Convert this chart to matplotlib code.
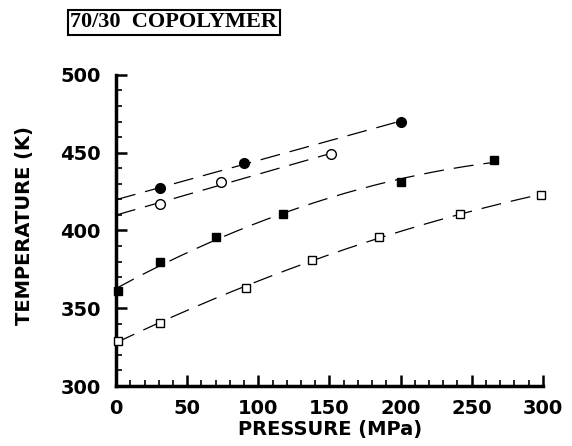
import numpy as np
import matplotlib.pyplot as plt
from matplotlib.ticker import MultipleLocator

# Daten (Druck in MPa, Temperatur in K)
p_filled_circ = [31, 90, 200]
t_filled_circ = [427, 443.5, 470]
p_open_circ = [31, 74, 151]
t_open_circ = [417, 431, 449]
p_filled_sq = [1, 31, 70, 117, 200, 266]
t_filled_sq = [361, 379.5, 395.5, 410.5, 431, 445]
p_open_sq = [1, 31, 91, 138, 185, 242, 299]
t_open_sq = [329, 340.5, 363, 381, 396, 410.5, 423]

plt.rcParams['font.family'] = ['DejaVu Sans']

fig = plt.figure(figsize=(5.72, 4.46), dpi=100)
ax = fig.add_axes([0.203, 0.1345, 0.746, 0.6975])

series = [
    (p_filled_circ, t_filled_circ, 'o', 'black', 7, 1),
    (p_open_circ, t_open_circ, 'o', 'white', 7, 1),
    (p_filled_sq, t_filled_sq, 's', 'black', 5.2, 2),
    (p_open_sq, t_open_sq, 's', 'white', 5.2, 2),
]

for p, t, m, fc, ms, deg in series:
    # Ausgleichskurve gestrichelt von 0 bis zum letzten Punkt
    coef = np.polyfit(p, t, deg)
    xs = np.linspace(0, max(p), 200)
    ax.plot(xs, np.polyval(coef, xs), color='black', lw=0.9,
            dashes=(16, 8), zorder=2)
    ax.plot(p, t, linestyle='none', marker=m, ms=ms, mfc=fc, mec='black',
            mew=1.0, zorder=3, clip_on=False)

ax.set_xlim(0, 300)
ax.set_ylim(300, 500)
ax.spines['top'].set_visible(False)
ax.spines['right'].set_visible(False)
ax.spines['left'].set_linewidth(2.5)
ax.spines['bottom'].set_linewidth(2.5)

ax.xaxis.set_major_locator(MultipleLocator(50))
ax.xaxis.set_minor_locator(MultipleLocator(10))
ax.yaxis.set_major_locator(MultipleLocator(50))
ax.yaxis.set_minor_locator(MultipleLocator(10))
ax.tick_params(which='major', direction='in', length=8, width=1.8,
               labelsize=14)
ax.tick_params(which='minor', direction='in', length=4.5, width=1.2)
ax.tick_params(axis='x', which='major', pad=9)
ax.tick_params(axis='y', which='major', pad=11)
for lab in ax.get_xticklabels() + ax.get_yticklabels():
    lab.set_fontweight('bold')

ax.set_xlabel('PRESSURE (MPa)', fontsize=14, fontweight='bold', va='top')
ax.xaxis.set_label_coords(0.501, -0.11)
ax.set_ylabel('TEMPERATURE (K)', fontsize=14, fontweight='bold', va='center')
ax.yaxis.set_label_coords(-0.215, 0.515)

fig.text(0.123, 0.95, '70/30  COPOLYMER', fontsize=16, fontweight='bold',
         family='Liberation Serif', va='center', ha='left',
         bbox=dict(boxstyle='square,pad=0.12', fc='white', ec='black', lw=1.5))

fig.savefig('out.png', dpi=100)
